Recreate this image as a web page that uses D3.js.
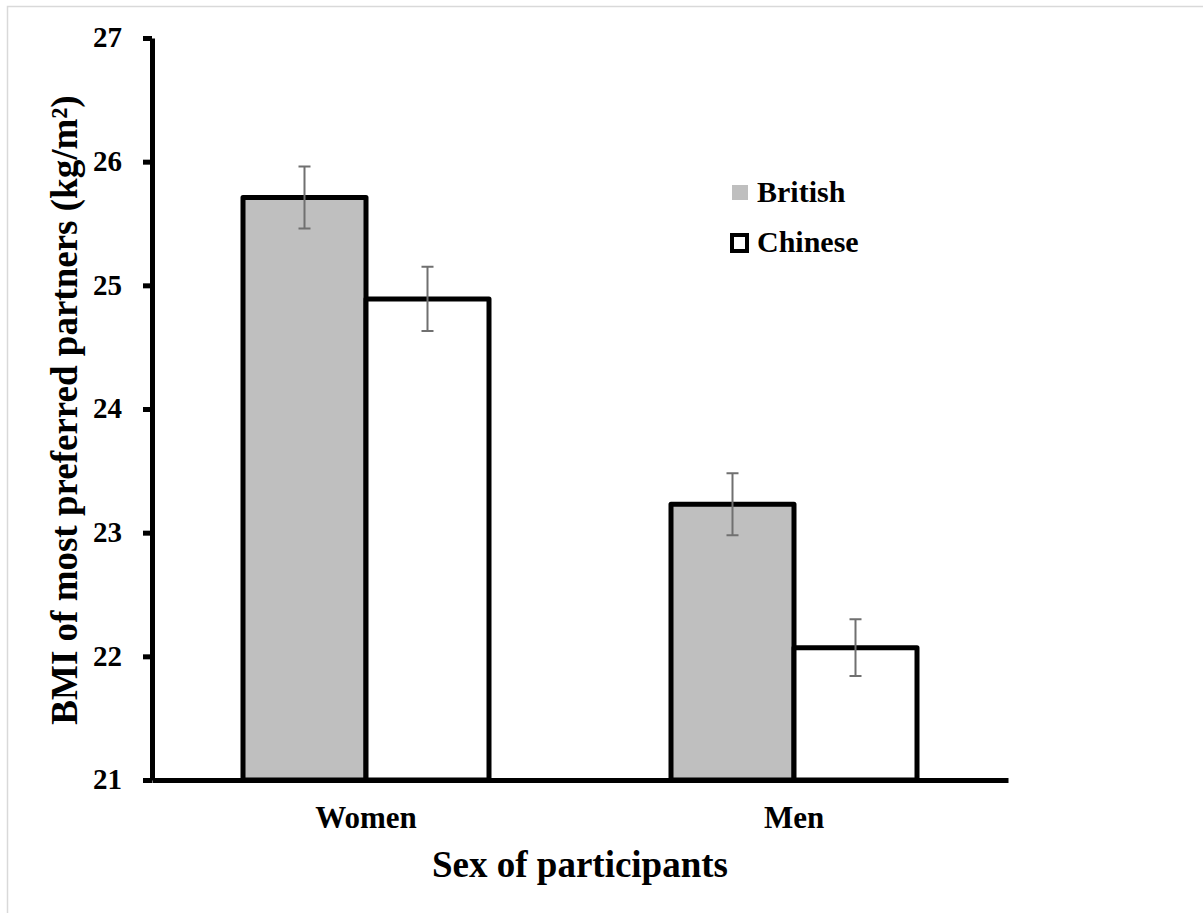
<!DOCTYPE html>
<html>
<head>
<meta charset="UTF-8">
<title>BMI of most preferred partners</title>
<script src="https://d3js.org/d3.v7.min.js"></script>
<style>
  body { margin: 0; background: #fff; }
  text { font-family: "Liberation Serif", "Times New Roman", serif; font-weight: bold; fill: #000; }
</style>
</head>
<body>
<script>
// data
var categories = ["Women", "Men"];
var series = ["British", "Chinese"];
var britishMeans = [25.71, 23.23];
var chineseMeans = [24.89, 22.07];
var britishErr = [0.25, 0.25];
var chineseErr = [0.26, 0.23];
var yTicks = [21, 22, 23, 24, 25, 26, 27];

var width = 1203, height = 913;
var plotLeft = 152, plotRight = 1008, plotTop = 38, plotBottom = 780;

var svg = d3.select("body").append("svg")
    .attr("width", width)
    .attr("height", height);

// light frame (top and left edges)
svg.append("path")
    .attr("d", "M7.5,913 V6.5 H1203")
    .attr("fill", "none")
    .attr("stroke", "#d9d9d9")
    .attr("stroke-width", 1.5);

var x = d3.scaleBand().domain(categories).range([plotLeft, plotRight]).padding(0);
var bw = x.bandwidth();
var barGroup = 246;
var xs = d3.scaleBand().domain(series).range([(bw - barGroup) / 2, (bw + barGroup) / 2]);
var y = d3.scaleLinear().domain([21, 27]).range([plotBottom, plotTop]);

var rows = [];
categories.forEach(function (c, i) {
    rows.push({ cat: c, ser: "British", v: britishMeans[i], e: britishErr[i] });
    rows.push({ cat: c, ser: "Chinese", v: chineseMeans[i], e: chineseErr[i] });
});
var fill = { British: "#bfbfbf", Chinese: "#ffffff" };

// bars
svg.append("g").selectAll("rect")
    .data(rows)
    .join("rect")
    .attr("x", function (d) { return x(d.cat) + xs(d.ser); })
    .attr("y", function (d) { return y(d.v); })
    .attr("width", xs.bandwidth())
    .attr("height", function (d) { return plotBottom - y(d.v); })
    .attr("fill", function (d) { return fill[d.ser]; })
    .attr("stroke", "#000")
    .attr("stroke-width", 5)
    .attr("stroke-linejoin", "round");

// error bars
var eb = svg.append("g").attr("stroke", "#707070").attr("stroke-width", 2).attr("fill", "none");
rows.forEach(function (d) {
    var cx = x(d.cat) + xs(d.ser) + xs.bandwidth() / 2;
    var y1 = y(d.v + d.e), y0 = y(d.v - d.e);
    eb.append("path")
        .attr("d", "M" + cx + "," + y1 + "V" + y0 +
            "M" + (cx - 6) + "," + y1 + "H" + (cx + 6) +
            "M" + (cx - 6) + "," + y0 + "H" + (cx + 6));
});

// y axis
var gy = svg.append("g")
    .attr("transform", "translate(" + plotLeft + ",0)")
    .call(d3.axisLeft(y).tickValues(yTicks).tickFormat(d3.format("d"))
        .tickSize(9).tickSizeOuter(0).tickPadding(21));
gy.select(".domain").attr("stroke-width", 5);
gy.selectAll(".tick line").attr("stroke-width", 5);
gy.selectAll(".tick text").style("font-size", "29px").attr("dy", "0.3em");

// x axis
var gx = svg.append("g")
    .attr("transform", "translate(0," + plotBottom + ")")
    .call(d3.axisBottom(x).tickSize(0).tickSizeOuter(0));
gx.select(".domain").attr("stroke-width", 5);
gx.selectAll(".tick text").style("font-size", "31px").attr("y", 48).attr("dy", 0);

// axis titles
svg.append("text")
    .attr("x", 580).attr("y", 877)
    .attr("text-anchor", "middle")
    .style("font-size", "37px")
    .text("Sex of participants");

svg.append("text")
    .attr("transform", "translate(77,410) rotate(-90)")
    .attr("text-anchor", "middle")
    .style("font-size", "37px")
    .text("BMI of most preferred partners (kg/m²)");

// legend
var legend = svg.append("g");
legend.append("rect")
    .attr("x", 732).attr("y", 185).attr("width", 16).attr("height", 15)
    .attr("fill", fill.British);
legend.append("rect")
    .attr("x", 732).attr("y", 235).attr("width", 15).attr("height", 16)
    .attr("fill", fill.Chinese).attr("stroke", "#000").attr("stroke-width", 4);
legend.selectAll("text.lbl")
    .data(series)
    .join("text")
    .attr("class", "lbl")
    .attr("x", 757)
    .attr("y", function (d, i) { return 202 + i * 50; })
    .style("font-size", "30px")
    .text(function (d) { return d; });
</script>
</body>
</html>
